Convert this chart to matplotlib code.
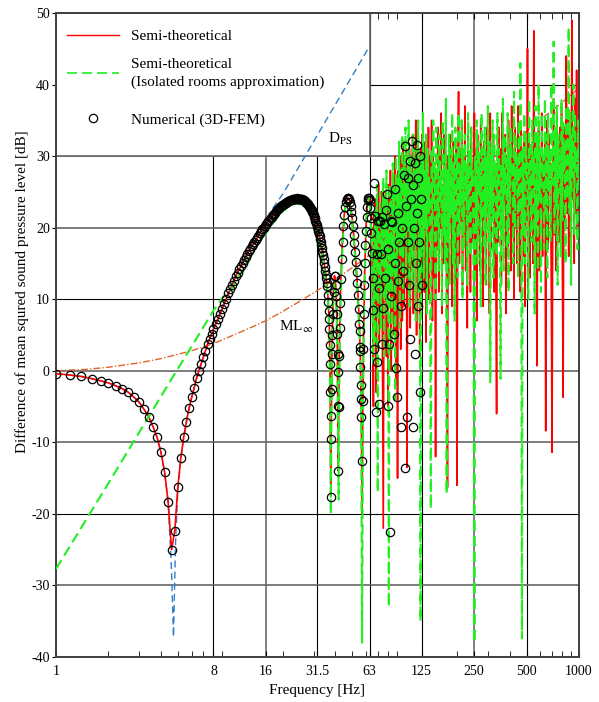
import numpy as np
import matplotlib.pyplot as plt
from matplotlib.lines import Line2D
from matplotlib.patches import Rectangle
from matplotlib.ticker import LogLocator, NullFormatter

plt.rcParams['font.family'] = 'Liberation Serif'
plt.rcParams['mathtext.fontset'] = 'stix'
plt.rcParams['axes.unicode_minus'] = False

# ---- data ----
# 1-8 Hz, 0.2 Hz step (semi-theoretical and FEM coincide here)
low_db = [-0.4, -0.6, -0.8, -1.1, -1.4, -1.7, -2.1, -2.5, -3.0, -3.7,
          -4.4, -5.4, -6.4, -7.8, -9.3, -11.4, -14.2, -18.4, -25.0, -22.4,
          -16.2, -12.2, -9.3, -7.1, -5.2, -3.7, -2.4, -1.0, 0.0, 1.0,
          1.9, 2.8, 3.7, 4.4, 5.1, 5.8]
low_f = 1.0 + 0.2 * np.arange(len(low_db))

# 8.25-35.75 Hz, 0.25 Hz step (first broad peak)
mid_db = [6.5, 7.2, 8.0, 8.7, 9.4, 10.1, 10.8, 11.4, 12.0, 12.6,
          13.2, 13.7, 14.2, 14.6, 15.1, 15.5, 15.9, 16.3, 16.7, 17.0,
          17.4, 17.7, 18.0, 18.3, 18.6, 18.9, 19.2, 19.5, 19.8, 20.0,
          20.3, 20.5, 20.7, 20.9, 21.1, 21.3, 21.5, 21.7, 21.9, 22.1,
          22.3, 22.4, 22.6, 22.7, 22.9, 23.0, 23.1, 23.2, 23.3, 23.4,
          23.5, 23.6, 23.65, 23.7, 23.75, 23.8, 23.85, 23.9, 23.95, 24.0,
          24.0, 24.0, 24.05, 24.1, 24.05, 24.0, 24.0, 24.0, 24.0, 24.0,
          23.95, 23.9, 23.85, 23.8, 23.7, 23.6, 23.5, 23.4, 23.3, 23.2,
          23.05, 22.9, 22.75, 22.6, 22.4, 22.2, 22.0, 21.8, 21.55, 21.3,
          21.0, 20.7, 20.4, 20.1, 19.8, 19.5, 19.15, 18.8, 18.4, 18.0,
          17.55, 17.1, 16.65, 16.2, 15.65, 15.1, 14.55, 14.0, 13.45, 12.9,
          12.2]
mid_f = 8.25 + 0.25 * np.arange(len(mid_db))

# 36-66 Hz, semi-theoretical
red_c_f = [36.0, 36.5, 37.0, 37.3, 37.5, 37.7, 37.9, 38.2, 38.6, 39.0,
           39.5, 40.0, 40.5, 41.0, 41.3, 41.6, 41.9, 42.3, 43.0, 44.0,
           45.0, 46.0, 47.0, 48.0, 49.0, 50.0, 51.0, 52.0, 53.0, 54.0,
           55.0, 55.8, 56.5, 57.0, 57.4, 58.0, 59.0, 60.0, 61.0, 62.0,
           63.0, 64.0, 65.0, 65.7, 66.2]
red_c_db = [11.5, 9.5, 6.0, 0.0, -10.0, -17.5, -8.0, 1.0, 7.0, 11.0,
            13.3, 13.0, 10.5, 5.0, -3.0, -14.0, -4.0, 5.0, 12.5, 18.5,
            21.8, 23.5, 24.2, 24.0, 23.0, 21.3, 19.0, 16.5, 13.8, 10.5,
            6.5, 1.0, -8.0, -20.0, -9.0, 4.0, 14.0, 20.0, 23.3, 24.5,
            24.0, 21.5, 15.0, 5.0, -5.0]

# 36-66 Hz, isolated rooms approximation
green_c_f = [36.0, 36.5, 37.0, 37.4, 37.7, 38.0, 38.4, 39.0, 39.5, 40.0,
             40.6, 41.1, 41.5, 41.8, 42.1, 42.6, 43.5, 44.5, 45.5, 46.5,
             47.5, 48.5, 49.5, 50.5, 51.5, 52.5, 53.5, 54.5, 55.5, 56.3,
             57.0, 57.6, 58.3, 59.3, 60.3, 61.3, 62.3, 63.3, 64.3, 65.2,
             66.0]
green_c_db = [11.0, 8.5, 4.5, -5.0, -20.0, -6.0, 3.0, 10.0, 12.5, 12.3,
              9.0, 2.0, -10.0, -18.0, -4.0, 6.0, 14.5, 19.5, 22.5, 23.6,
              23.7, 23.0, 21.6, 19.6, 17.2, 14.4, 11.2, 7.3, 2.5, -6.0,
              -38.0, -7.0, 6.0, 15.5, 21.0, 23.5, 24.2, 23.2, 19.5, 11.0,
              1.0]

# isolated rooms approximation below 36 Hz
green_ab_f = [1, 2, 3, 4, 5, 6, 7, 8, 9, 10, 11, 12, 14, 16, 18, 20, 22,
              24, 26, 28, 30, 32, 34, 35]
green_ab_db = [-27.7, -15.7, -8.6, -3.6, 0.3, 3.4, 6.1, 8.4, 10.2, 11.2,
               12.9, 14.5, 17.2, 19.3, 21.0, 22.3, 23.1, 23.4, 23.2, 22.6,
               21.2, 18.9, 15.5, 13.2]

# 66.5-1000 Hz, dense modal region
red_hi_db = [22, 6, 24, -3, 19, 9, 26, 4, 23, 12, 25, 1, -22, 21, 10, 25, 2, 23, -5, 26,
             13, 28, 0, 24, 8, 27, 5, 30, -2, 25, -15, 28, 11, 30, 3, 29, 7, 32, 9, 30,
             16, 31, -13.5, 28, 12, 31, 6, 26, 15, 33, 8, 29, 17, 35, 5, 30, 14, 27, 2, 31,
             9, 33, 17, 28, 11, 32, 4, 29, 18, 34, 10, 30, 19, 35, 7, 31, 13, 26, -12, 28,
             17, 34, 11, 30, 20, 36, 8, 26, 15, 33, 19, 29, 10, -16.3, 30, 14, 33, 20, 29, 9,
             32, 16, 27, 12, 31, -16, 27, 39, 15, 31, 21, 35, 12, 30, 19, 37, 14, 28, 6, 33,
             20, 30, 11, 34, 18, 29, 22, 36, 13, 31, 7, 33, 19, 27, 14, 35, 21, 30, 9, 32,
             18, 27, 12, 34, 22, 30, 8, 36, 17, 29, 23, 33, 11, 28, 16, -6, 29, 18, 34, 20,
             31, 12, 36, 19, 28, 23, 33, 8, 30, 17, 35, 21, 29, 14, 37, 19, 31, 10, 34, 22,
             28, 15, 37, 20, 31, 11, 34, 23, 28, 16, 32, 9, 30, 21, 45, 18, 32, 13, 30, 24,
             29, 15, 47.5, 18, 33, 20, 0.7, 27, 34, 14, 31, 22, 36, 16, 30, 24, 33, -8.4, 30, 35,
             17, 33, 25, 29, 12, -11.4, 29, 38, 19, 32, 14, 36, 23, 30, 18, 34, 21, 37, 15, -3.7,
             34, 20, 31, 44, 22, 35, 16, 33, 26, 18, 49, 24, 33, 15, 38, 22, 42, 19, 35, 27]
green_hi_db = [20, 4, 23, 10, 26, -17, 22, 12, 25, 6, 23, 15, 27, 2, 24, 10, 28, 8, 22, -33,
               26, 11, 25, 3, 29, 14, 26, -4, 30, 12, 27, 18, 32, 6, 28, 16, 33, 10, 29, 19,
               34, 13, 27, 20, 35, 9, 30, 16, 26, 12, 33, 18, 28, 7, 31, 21, 35, 11, 29, -35,
               30, 17, 36, 13, 28, 20, 33, 8, 31, 22, 27, 14, -19.3, 31, 16, 35, 23, 29, 10, 34,
               20, 30, 14, 33, 24, 28, 9, 35, 19, 30, 15, 38, -17.2, 28, 18, 33, 12, 31, 22, 36,
               15, 29, 7, 34, 21, 30, 13, 36, 19, 28, 23, 35, 10, 31, 17, 33, 24, 29, 12, 36,
               21, 31, 16, 34, 26, 28, 11, -38, 30, 20, 35, 15, 32, 25, 29, 9, 36, 21, 31, 17,
               34, 12, 30, 23, 37, 18, 32, -1.6, 30, 22, 35, 13, 33, 26, 29, 16, 36, 20, 31, 24,
               -1.1, 29, 19, 38, 14, 33, 25, 30, 17, 36, 11, 31, 22, 34, 27, 29, 15, 39, 20, 33,
               26, 30, 13, 35, 22, 43, 28, -37.4, 31, 19, 36, 15, 33, 27, 29, 10, 38, 23, 32, 18,
               35, 26, 30, 8, 37, 20, 33, 14, 40, 24, 31, 11, 36, 27, 30, 17, 38, 22, 33, 13,
               36, 25, 31, 18, 40, 26, 30, 46, 19, 34, 23, 37, 12, 33, 27, 30, 16, 38, 21, 35,
               28, 32, 15, 37, 24, 33, 48, 22, 36, 12, 33, 27, 40, 19, 36, 28, 31, 17, 35, 26]
red_hi_f = np.geomspace(66.5, 1000, len(red_hi_db))
green_hi_f = np.geomspace(66.5, 1000, len(green_hi_db))

# 3D-FEM results above 36 Hz
fem_c_f = [36.0, 36.2, 36.4, 36.6, 36.8, 37.0, 37.2, 37.4, 37.5, 37.6,
           37.7, 37.9, 38.1, 38.3, 38.5, 38.8, 39.2, 39.6, 40.0, 40.3,
           40.6, 40.9, 41.1, 41.3, 41.4, 41.5, 41.6, 41.9, 42.2, 42.5,
           42.8, 43.2, 43.6, 44.0, 44.5, 45.0, 45.5, 46.0, 46.5, 47.0,
           47.5, 48.0, 48.5, 49.0, 49.5, 50.0, 50.5, 51.0, 51.5, 52.0,
           52.5, 53.0, 53.5, 54.0, 54.5, 55.0, 55.2, 55.4, 55.6, 55.8,
           56.0, 56.2, 56.5, 57.2, 57.6, 58.0, 58.4, 58.8, 59.2, 59.6,
           60.0, 60.5, 61.0, 61.5, 62.0, 62.5, 63.0, 63.5, 64.0, 64.5,
           65.0, 65.4]
fem_c_db = [11.8, 10.6, 9.6, 8.4, 7.2, 5.8, 3.6, 0.9, -3.0, -6.3,
            -17.7, -9.5, -2.5, 2.3, 5.0, 8.0, 11.0, 13.2, 13.2, 12.0,
            10.5, 7.9, 5.1, 2.3, -0.2, -4.9, -14.0, -5.0, 2.0, 6.0,
            9.5, 12.8, 15.6, 18.0, 20.2, 21.8, 22.9, 23.6, 24.0, 24.2,
            24.2, 24.0, 23.6, 23.0, 22.2, 21.3, 20.2, 19.0, 17.8, 16.6,
            15.2, 13.8, 12.2, 10.6, 8.6, 6.5, 5.6, 3.3, 2.8, 0.5,
            -2.0, -3.9, -6.5, -12.6, -4.2, 3.0, 8.0, 12.0, 15.0, 17.6,
            19.6, 21.5, 22.9, 23.8, 24.2, 24.2, 23.8, 22.8, 21.4, 19.2,
            16.5, 13.0]
fem_d_f = [66.0, 66.5, 67.0, 67.6, 68.3, 69.0, 69.5, 70.0, 70.8, 71.5,
           72.0, 73.0, 74.0, 74.5, 75.5, 76.0, 77.0, 78.0, 79.0, 79.8,
           80.5, 81.0, 82.0, 83.0, 84.0, 85.0, 86.5, 87.5, 88.4, 89.0,
           90.0, 91.0, 92.0, 93.0, 94.8, 95.5, 96.5, 97.5, 98.6, 99.9,
           100.7, 101.5, 103.0, 104.0, 105.0, 106.0, 107.5, 107.5, 108.5, 109.6,
           111.0, 112.0, 113.0, 114.0, 115.0, 116.0, 117.0, 118.0, 119.0, 120.0,
           121.0, 122.0, 123.0, 124.0, 125.0]
fem_d_db = [8.5, 3.0, 26.2, 21.6, -5.8, 1.2, 16.3, 21.0, -4.6, 11.6,
            20.9, 16.3, 3.7, 21.5, 8.8, 20.5, 13.0, 22.4, 24.7, -4.9,
            17.0, 3.7, -22.6, 21.0, 10.5, 20.8, 5.1, 15.0, 25.4, 0.4,
            -3.6, 12.5, 22.0, 18.0, -7.9, 9.0, 20.0, 14.0, 27.4, -13.6,
            31.4, 23.0, -6.5, 27.0, 18.0, 12.0, 4.4, 29.3, 24.0, 32.1,
            -7.8, 26.0, 20.0, 2.4, 29.0, 15.0, 31.6, 22.0, 9.0, 27.0,
            18.0, 30.0, -2.9, 24.0, 12.0]

# point-source theory D_PS
dps_f = [1.0, 1.2, 1.4, 1.6, 1.8, 2.0, 2.2, 2.4, 2.6, 2.8, 3.0, 3.2, 3.4,
         3.6, 3.8, 4.0, 4.2, 4.4, 4.6, 4.72, 4.85, 5.0, 5.2, 5.4, 5.6, 5.8,
         6.0, 6.2, 6.4, 6.6, 6.8, 7.0, 7.4, 8, 9, 10, 11, 12, 14, 16, 18,
         20, 25, 31.5, 40, 50, 63]
dps_db = [-0.4, -0.6, -0.8, -1.1, -1.4, -1.7, -2.1, -2.5, -3.0, -3.7, -4.4,
          -5.4, -6.4, -7.8, -9.3, -11.4, -14.2, -18.4, -28.0, -37.2, -24.0,
          -16.6, -12.4, -9.4, -7.1, -5.3, -3.8, -2.5, -1.1, -0.1, 0.9, 1.9,
          3.7, 5.9, 8.9, 11.5, 13.9, 15.8, 18.8, 21.2, 23.1, 24.7, 28.7,
          32.9, 37.2, 41.2, 45.4]

# mass law, infinite wall
ml_f = [1, 1.5, 2, 3, 4, 5, 6, 8, 10, 13, 16, 20, 25, 31.5, 40, 50, 63, 80,
        100, 125, 160, 200, 250, 315, 400, 500, 630, 800, 1000]
ml_db = [0.0, 0.2, 0.5, 1.1, 1.7, 2.3, 2.8, 3.8, 4.8, 6.0, 7.0, 8.3, 9.7,
         11.2, 12.8, 14.4, 16.2, 18.0, 19.8, 21.6, 23.6, 25.5, 27.5, 29.5,
         31.5, 33.5, 35.5, 37.5, 39.5]

xticks = [1, 8, 16, 31.5, 63, 125, 250, 500, 1000]
xticklabels = ['1', '8', '16', '31.5', '63', '125', '250', '500', '1000']

# ---- assemble series ----
red_f = np.concatenate([low_f, mid_f, red_c_f, red_hi_f])
red_db = np.concatenate([low_db, mid_db, red_c_db, red_hi_db])
green_f = np.concatenate([green_ab_f, green_c_f, green_hi_f])
green_db = np.concatenate([green_ab_db, green_c_db, green_hi_db])
fem_f = np.concatenate([low_f, mid_f, fem_c_f, fem_d_f])
fem_db = np.concatenate([low_db, mid_db, fem_c_db, fem_d_db])

RED = '#ff0000'
GREEN = '#22ee22'
BLUE = '#2f7fc8'
ORANGE = '#e0652a'

fig = plt.figure(figsize=(5.99, 7.02), dpi=100)
ax = fig.add_axes([0.0935, 0.0641, 0.8731, 0.9174])

ax.plot(dps_f, dps_db, color=BLUE, lw=1.0, ls=(0, (5, 3)), zorder=2)
ax.plot(ml_f, ml_db, color=ORANGE, lw=1.0, ls=(0, (5, 1.5, 1, 1.5)), zorder=2)
ax.plot(red_f, red_db, color=RED, lw=1.2, zorder=3)
ax.plot(green_f, green_db, color=GREEN, lw=1.5, ls=(0, (5, 2.5)), zorder=4)
ax.plot(fem_f, fem_db, ls='none', marker='o', ms=6, mfc='none', mec='k',
        mew=0.9, zorder=5)

ax.set_xscale('log')
ax.set_xlim(1, 1000)
ax.set_ylim(-40, 50)
ax.set_xticks(xticks)
ax.set_xticklabels(xticklabels)
ax.xaxis.set_minor_locator(LogLocator(subs=np.arange(2, 10)))
ax.xaxis.set_minor_formatter(NullFormatter())
ax.set_yticks(np.arange(-40, 51, 10))
ax.tick_params(axis='x', which='major', direction='in', top=True, length=4,
               labelsize=10, pad=6)
ax.tick_params(axis='x', which='minor', direction='in', top=True, length=4)
ax.tick_params(axis='y', direction='out', length=3, pad=1.5, labelsize=10)

# grid: some lines black, the rest gray
ax.set_axisbelow(True)
ax.grid(True, which='major')
dark_x = [8, 31.5, 63, 125, 500]
for val, gl in zip(xticks, ax.get_xgridlines()):
    if val in dark_x:
        gl.set_color('black'); gl.set_linewidth(0.8)
    else:
        gl.set_color('#777777'); gl.set_linewidth(1.3)
for val, gl in zip(np.arange(-40, 51, 10), ax.get_ygridlines()):
    if val in (-20, 10, 40):
        gl.set_color('black'); gl.set_linewidth(0.8)
    else:
        gl.set_color('#666666'); gl.set_linewidth(1.2)

for sp in ax.spines.values():
    sp.set_color('#404040')
    sp.set_linewidth(1.4)

# white panel behind the legend
ax.add_patch(Rectangle((1, 30), 62, 20, facecolor='white', edgecolor='#666666',
                       lw=1.2, zorder=1))

# legend in two parts so the FEM entry sits a little lower
leg_kw = dict(loc='upper left', frameon=False, fontsize=11, handlelength=3.4,
              handletextpad=0.8, labelspacing=0.93, borderaxespad=0.3)
leg1 = ax.legend([Line2D([], [], color=RED, lw=1.0),
                  Line2D([], [], color=GREEN, lw=1.2, ls=(0, (6, 3)))],
                 ['Semi-theoretical',
                  'Semi-theoretical\n(Isolated rooms approximation)'],
                 bbox_to_anchor=(0.0, 0.9907), **leg_kw)
leg1.get_texts()[1].set_linespacing(1.5)
leg1.set_zorder(6)
ax.add_artist(leg1)
leg2 = ax.legend([Line2D([], [], ls='none', marker='o', ms=6, mfc='none',
                         mec='k', mew=0.9)],
                 ['Numerical (3D-FEM)'],
                 bbox_to_anchor=(0.0, 0.8618), **leg_kw)
leg2.set_zorder(6)

ax.text(36.4, 31.8, r'D$_{\rm PS}$', fontsize=11, zorder=6)
ax.text(19.0, 5.6, r'ML$_{\infty}$', fontsize=11, zorder=6)

ax.set_xlabel('Frequency [Hz]', fontsize=11, labelpad=4)
ax.set_ylabel('Difference of mean squred sound pressure level [dB]', fontsize=11)
ax.yaxis.set_label_coords(-0.052, 0.568)

fig.savefig('out.png', dpi=100)
